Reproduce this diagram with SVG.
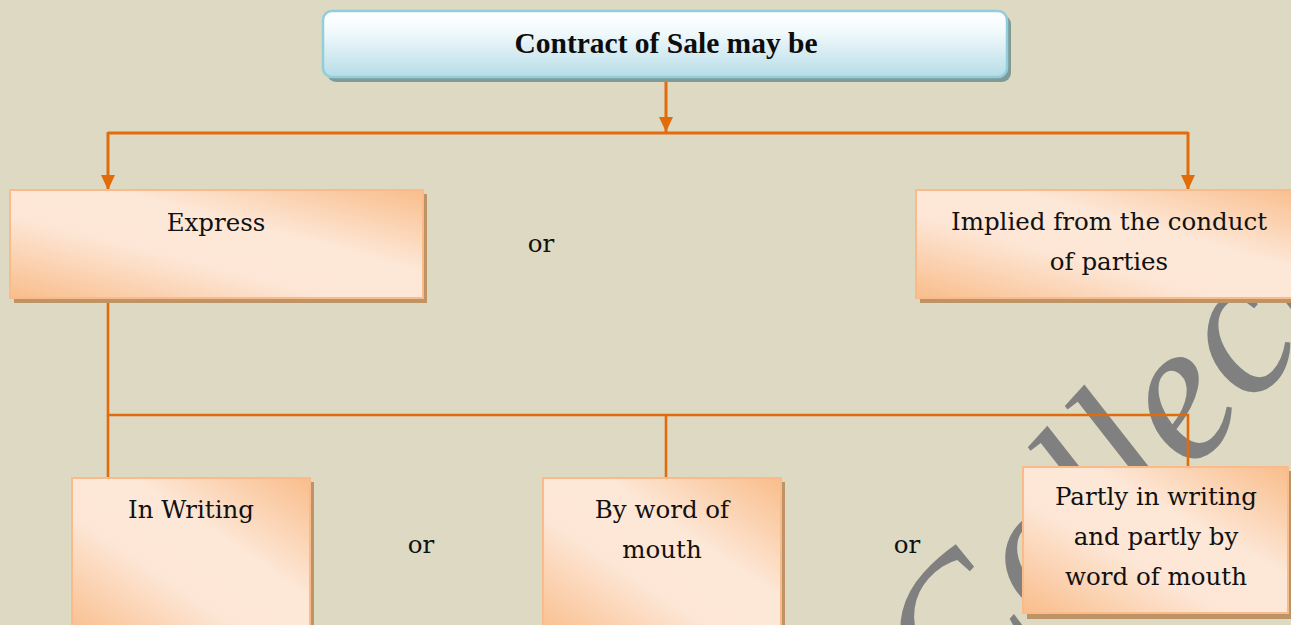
<svg xmlns="http://www.w3.org/2000/svg" width="1291" height="625" viewBox="0 0 1291 625">
  <defs>
    <linearGradient id="gBlue" x1="0" y1="0" x2="0" y2="1">
      <stop offset="0" stop-color="#ffffff"/>
      <stop offset="0.3" stop-color="#f3fafc"/>
      <stop offset="1" stop-color="#b6dce7"/>
    </linearGradient>
    <linearGradient id="gPeach" x1="0" y1="1" x2="1" y2="0">
      <stop offset="0" stop-color="#f9bd8b"/>
      <stop offset="0.38" stop-color="#fde6d5"/>
      <stop offset="0.62" stop-color="#fde8d8"/>
      <stop offset="1" stop-color="#f9bd8b"/>
    </linearGradient>
    <marker id="arr" markerUnits="userSpaceOnUse" viewBox="0 0 15 14" refX="15" refY="7" markerWidth="15" markerHeight="14" orient="auto">
      <path d="M0,0 L15,7 L0,14 z" fill="#e36c0a"/>
    </marker>
    <style>
      .bg { fill: #ddd9c3; }
      .wire { fill: none; stroke: #e36c0a; stroke-width: 2.6; }
      .wire3 { fill: none; stroke: #e36c0a; stroke-width: 3; }
      .pshadow { fill: #be9467; }
      .pbox { fill: url(#gPeach); stroke: #f9bb8a; stroke-width: 2; }
      .bshadow { fill: #7f9b97; }
      .bbox { fill: url(#gBlue); stroke: #92cddc; stroke-width: 2.5; }
      .t { font-family: "DejaVu Serif", "Liberation Serif", serif; font-size: 24.5px; fill: #111111; text-anchor: middle; }
      .title { font-family: "Liberation Serif", "DejaVu Serif", serif; font-weight: bold; font-size: 29.5px; fill: #0d0d0d; text-anchor: middle; }
      .wm { font-family: "Liberation Serif", "DejaVu Serif", serif; font-style: italic; font-size: 200px; fill: #808080; }
    </style>
  </defs>

  <rect class="bg" x="0" y="0" width="1291" height="625"/>

  <g id="watermark">
    <text class="wm" transform="translate(960,730) rotate(-48)">Collected</text>
  </g>

  <g id="connectors">
    <path class="wire3" d="M666,79 V132" marker-end="url(#arr)"/>
    <path class="wire3" d="M108,133 H1188"/>
    <path class="wire3" d="M108,132 V190" marker-end="url(#arr)"/>
    <path class="wire3" d="M1188,132 V190" marker-end="url(#arr)"/>
    <path class="wire" d="M108,298 V415 H1188 V467"/>
    <path class="wire" d="M108,415 V478"/>
    <path class="wire" d="M666,415 V478"/>
  </g>

  <g id="node-contract">
    <rect class="bshadow" x="327" y="15" width="684" height="67" rx="9"/>
    <rect class="bbox" x="323" y="11" width="684" height="66" rx="9"/>
    <text class="title" x="666" y="53">Contract of Sale may be</text>
  </g>

  <g id="node-express">
    <rect class="pshadow" x="14" y="194" width="413" height="109"/>
    <rect class="pbox" x="10" y="190" width="413" height="108"/>
    <text class="t" x="216" y="231">Express</text>
  </g>

  <g id="label-or-1">
    <text class="t" x="541" y="252">or</text>
  </g>

  <g id="node-implied">
    <rect class="pshadow" x="920" y="194" width="390" height="109"/>
    <rect class="pbox" x="916" y="190" width="390" height="108"/>
    <text class="t" x="1109" y="230">Implied from the conduct</text>
    <text class="t" x="1109" y="270">of parties</text>
  </g>

  <g id="node-writing">
    <rect class="pshadow" x="76" y="482" width="238" height="160"/>
    <rect class="pbox" x="72" y="478" width="238" height="160"/>
    <text class="t" x="191" y="518">In Writing</text>
  </g>

  <g id="label-or-2">
    <text class="t" x="421" y="553">or</text>
  </g>

  <g id="node-word">
    <rect class="pshadow" x="547" y="482" width="238" height="160"/>
    <rect class="pbox" x="543" y="478" width="238" height="160"/>
    <text class="t" x="662" y="518">By word of</text>
    <text class="t" x="662" y="558">mouth</text>
  </g>

  <g id="label-or-3">
    <text class="t" x="907" y="553">or</text>
  </g>

  <g id="node-partly">
    <rect class="pshadow" x="1027" y="471" width="265" height="148"/>
    <rect class="pbox" x="1023" y="467" width="265" height="146"/>
    <text class="t" x="1156" y="505">Partly in writing</text>
    <text class="t" x="1156" y="545">and partly by</text>
    <text class="t" x="1156" y="585">word of mouth</text>
  </g>
</svg>
